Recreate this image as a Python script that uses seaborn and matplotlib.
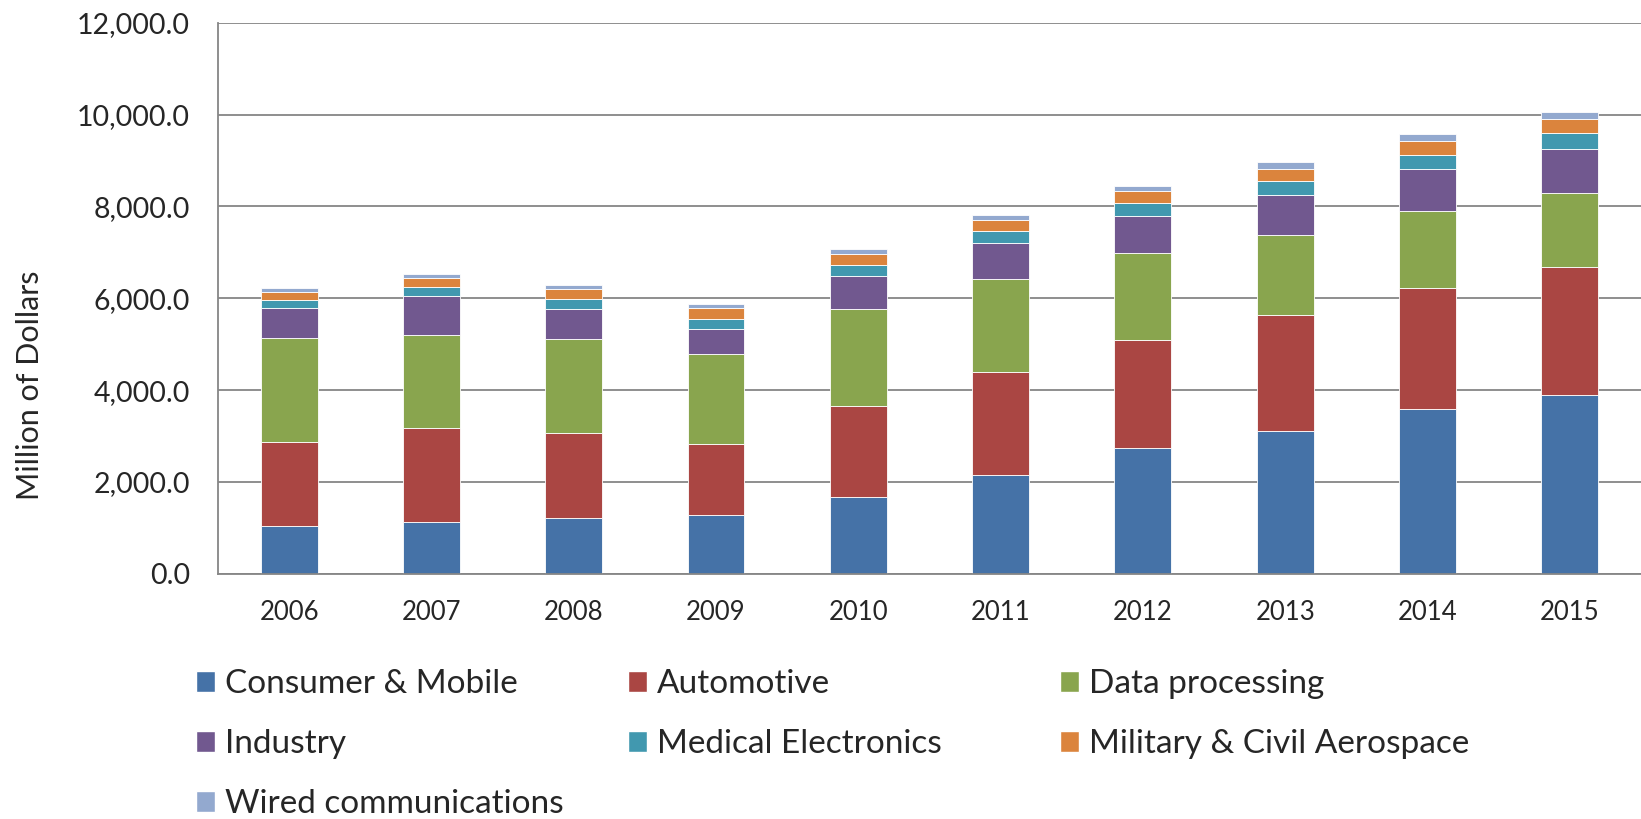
import pandas as pd
import numpy as np
import matplotlib.pyplot as plt
from matplotlib.patches import Patch
from matplotlib.ticker import FuncFormatter
import seaborn as sns

# ==========================================================
# DATA (million of dollars)
# ==========================================================

years = [2006, 2007, 2008, 2009, 2010, 2011, 2012, 2013, 2014, 2015]

segments = [
    "Consumer & Mobile",
    "Automotive",
    "Data processing",
    "Industry",
    "Medical Electronics",
    "Military & Civil Aerospace",
    "Wired communications"
]

consumer_mobile = [1047, 1135, 1215, 1270, 1672, 2153, 2729, 3108, 3581, 3894]
automotive = [1826, 2043, 1854, 1555, 1978, 2241, 2366, 2533, 2642, 2780]
data_processing = [2262, 2022, 2036, 1963, 2116, 2022, 1892, 1739, 1688, 1623]
industry = [661, 858, 670, 533, 716, 781, 801, 873, 903, 946]
medical = [175, 189, 218, 234, 233, 263, 283, 292, 313, 357]
military = [174, 204, 211, 241, 241, 241, 262, 276, 298, 306]
wired = [88, 87, 87, 80, 124, 120, 124, 146, 160, 160]

colors = [
    "#4572A7",
    "#AA4643",
    "#89A54E",
    "#71588F",
    "#4198AF",
    "#DB843D",
    "#93A9CF"
]

y_ticks = [0, 2000, 4000, 6000, 8000, 10000, 12000]

# ==========================================================
# LONG FORMAT TABLE
# ==========================================================

series = [consumer_mobile, automotive, data_processing,
          industry, medical, military, wired]

rows = []
for name, values in zip(segments, series):
    for year, value in zip(years, values):
        rows.append({"year": year, "segment": name, "value": value})

df = pd.DataFrame(rows)
palette = dict(zip(segments, colors))

# ==========================================================
# STYLE
# ==========================================================

sns.set_style("white")
plt.rcParams["font.family"] = ["Lato", "DejaVu Sans"]

GRAY = "#868686"

# ==========================================================
# PLOT
# ==========================================================

fig, ax = plt.subplots(figsize=(16.41, 8.19), dpi=100)
fig.subplots_adjust(left=0.1328, right=1.0, bottom=0.2996, top=0.972)

# seaborn stacks the first hue level on top, so reverse the order
sns.histplot(
    data=df,
    x="year",
    weights="value",
    hue="segment",
    hue_order=segments[::-1],
    palette=palette,
    multiple="stack",
    discrete=True,
    shrink=0.4,
    alpha=1,
    edgecolor="white",
    linewidth=0.6,
    legend=False,
    ax=ax
)

ax.set_xlim(years[0] - 0.5, years[-1] + 0.5)
ax.set_ylim(y_ticks[0], y_ticks[-1])

ax.set_xticks(years)
ax.set_xticklabels([str(y) for y in years])
ax.set_xticks(np.arange(years[0] - 0.5, years[-1] + 0.5, 1), minor=True)

ax.set_yticks(y_ticks)
ax.yaxis.set_major_formatter(FuncFormatter(lambda v, p: f"{v:,.1f}"))

ax.tick_params(axis="x", which="major", length=0, labelsize=18.5, pad=19)
ax.tick_params(axis="x", which="minor", length=9, width=1.3,
               color=GRAY, direction="out")
ax.tick_params(axis="y", length=9, width=1.3, color=GRAY,
               labelsize=20.5, pad=11, direction="out")

ax.yaxis.grid(True, color=GRAY, linewidth=1.3)
ax.set_axisbelow(True)

sns.despine(ax=ax, top=True, right=True)
for side in ["left", "bottom"]:
    ax.spines[side].set_color(GRAY)
    ax.spines[side].set_linewidth(1.3)

ax.set_xlabel("")
ax.set_ylabel("Million of Dollars", fontsize=22)
ax.yaxis.set_label_coords(-0.122, 0.3425)

# ==========================================================
# LEGEND (three columns, column-major like the original)
# ==========================================================

columns = [[0, 3, 6], [1, 4], [2, 5]]
col_x = [0.1194, 0.3827, 0.646]

for idx, x in zip(columns, col_x):
    handles = [Patch(facecolor=colors[i], label=segments[i]) for i in idx]
    fig.legend(
        handles=handles,
        loc="upper left",
        bbox_to_anchor=(x, 0.183),
        frameon=False,
        fontsize=24,
        handlelength=0.57,
        handleheight=0.57,
        handletextpad=0.3,
        labelspacing=0.9,
        borderpad=0,
        borderaxespad=0
    )

plt.savefig("out.png", dpi=100)
plt.close()
